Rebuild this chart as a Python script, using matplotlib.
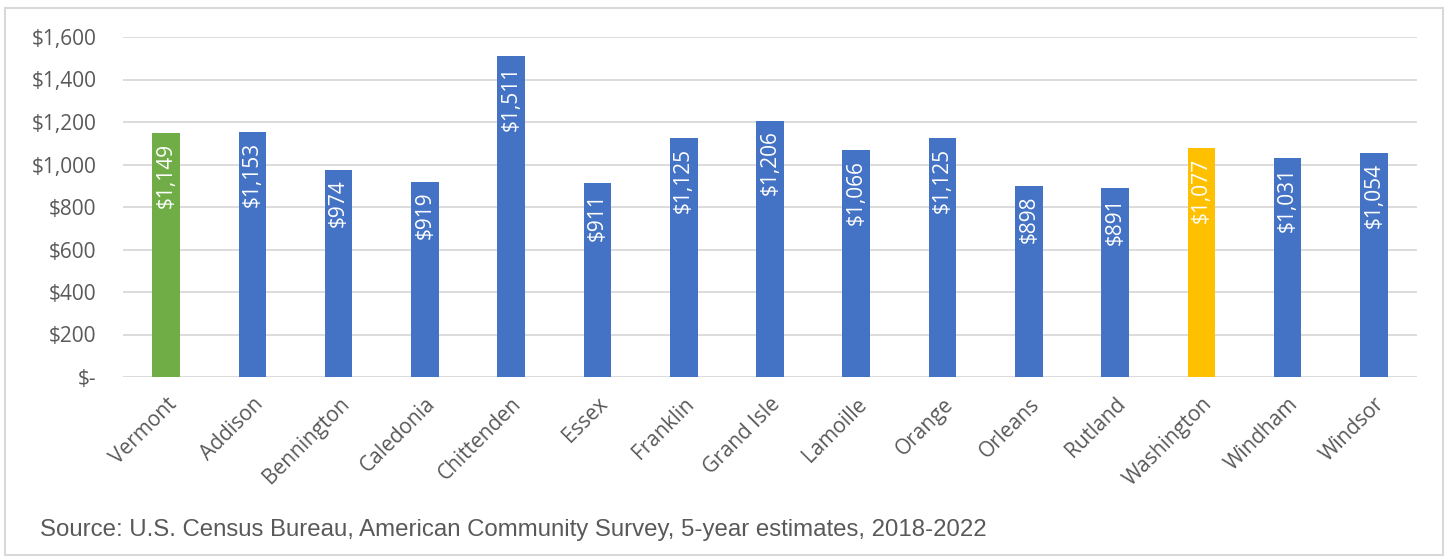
import matplotlib.pyplot as plt
from matplotlib.patches import Rectangle

counties = ['Vermont', 'Addison', 'Bennington', 'Caledonia', 'Chittenden', 'Essex',
            'Franklin', 'Grand Isle', 'Lamoille', 'Orange', 'Orleans', 'Rutland',
            'Washington', 'Windham', 'Windsor']
rent = [1149, 1153, 974, 919, 1511, 911, 1125, 1206, 1066, 1125, 898, 891, 1077, 1031, 1054]
colors = ['#70ad47'] + ['#4472c4'] * 11 + ['#ffc000'] + ['#4472c4'] * 2
yticks = [0, 200, 400, 600, 800, 1000, 1200, 1400, 1600]
ytick_labels = ['$-', '$200', '$400', '$600', '$800', '$1,000', '$1,200', '$1,400', '$1,600']

plt.rcParams['font.family'] = ['Open Sans', 'DejaVu Sans']
grey = '#595959'

fig = plt.figure(figsize=(14.49, 5.59), dpi=100)
fig.patches.append(Rectangle((5 / 1449, 4 / 559), 1438 / 1449, 547 / 559, transform=fig.transFigure,
                             fill=False, edgecolor='#d9d9d9', linewidth=1.5))
ax = fig.add_axes([123 / 1449, 1 - 377 / 559, (1417 - 123) / 1449, 340 / 559])

x = range(len(counties))
bars = ax.bar(x, rent, width=0.32, color=colors, zorder=3)
for xi, v in zip(x, rent):
    ax.text(xi, v - 45, '${:,}'.format(v), rotation=90, ha='center', va='top',
            color='white', fontsize=15, zorder=4)

ax.set_xlim(-0.5, len(counties) - 0.5)
ax.set_ylim(0, 1600)
ax.set_yticks(yticks)
ax.set_yticklabels(ytick_labels, fontsize=15, color=grey)
ax.set_xticks(list(x))
ax.set_xticklabels(counties, rotation=45, ha='right', rotation_mode='anchor',
                   fontsize=15, color=grey)
ax.tick_params(length=0)
ax.tick_params(axis='y', pad=19)
ax.tick_params(axis='x', pad=12)
ax.grid(axis='y', color='#d9d9d9', linewidth=1.3, zorder=0)
for s in ax.spines.values():
    s.set_visible(False)

fig.text(40 / 1449, 1 - 530 / 559, 'Source: U.S. Census Bureau, American Community Survey, 5-year estimates, 2018-2022',
         family='Liberation Sans', fontsize=17.3, color=grey, va='center')

fig.savefig('out.png', dpi=100)
